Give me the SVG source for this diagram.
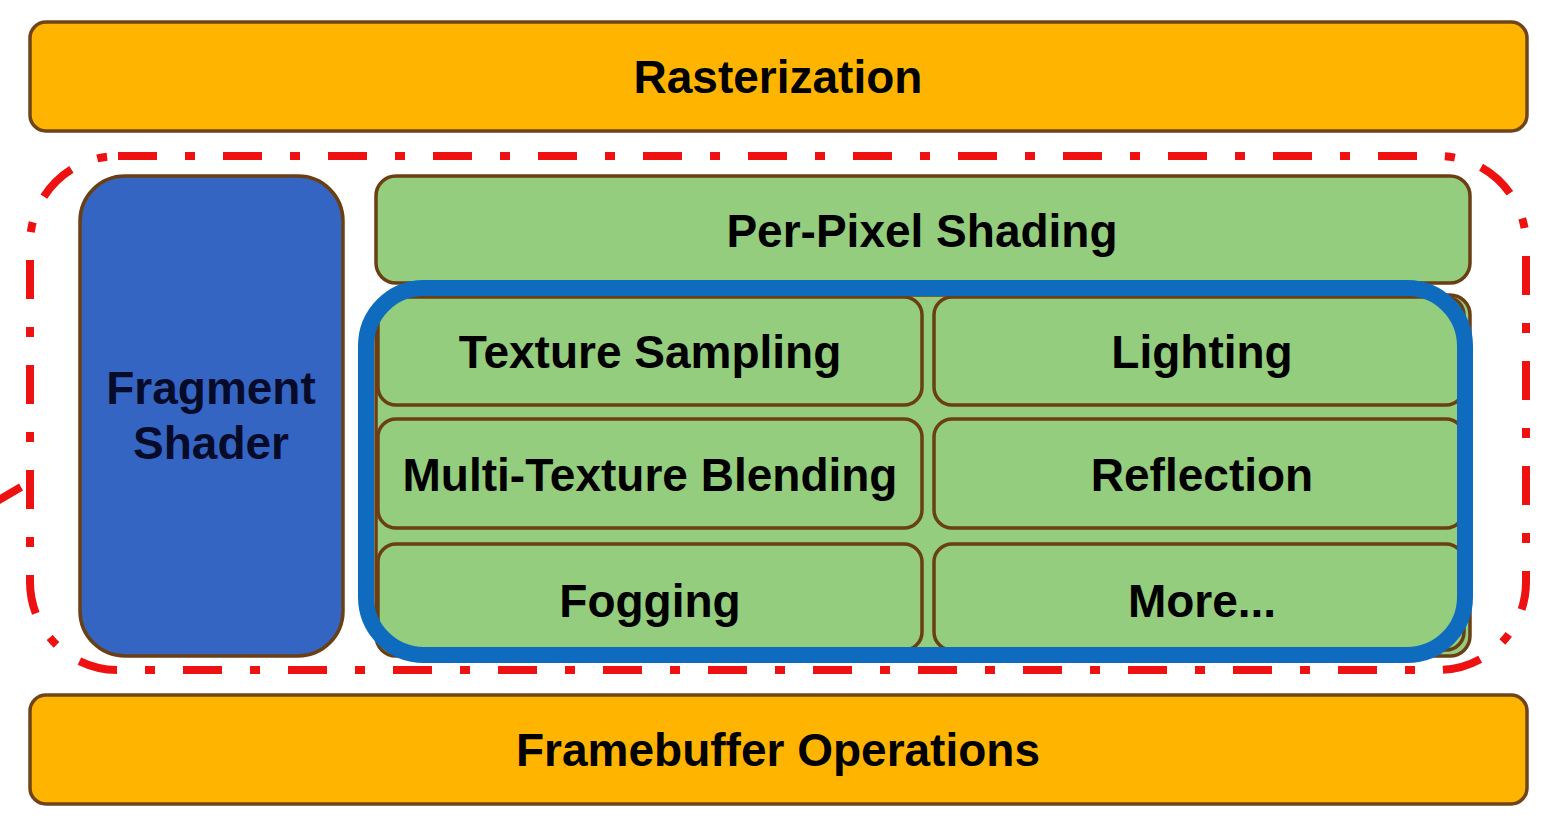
<svg xmlns="http://www.w3.org/2000/svg" width="1558" height="827" viewBox="0 0 1558 827">
<defs>
<style>
.stage{fill:#FFB500;stroke:#6E4418;stroke-width:3.5}
.green{fill:#94CD7E;stroke:#6A3F14;stroke-width:3.5}
.shader{fill:#3565C3;stroke:#6A3F14;stroke-width:3.5}
.lbl{font-family:"Liberation Sans",Arial,sans-serif;font-weight:bold;font-size:46px;fill:#000;text-anchor:middle}
.lblw{font-family:"Liberation Sans",Arial,sans-serif;font-weight:bold;font-size:46px;fill:#060B2A;text-anchor:middle}
.dash{fill:none;stroke:#EE1111;stroke-width:8;stroke-dasharray:39 28 10 28}
</style>
</defs>
<rect width="1558" height="827" fill="#fff"/>
<g id="rasterization">
<rect class="stage" x="30" y="22" width="1497" height="109" rx="16"/>
<text class="lbl" x="778" y="93">Rasterization</text>
</g>
<g id="framebuffer">
<rect class="stage" x="30" y="695" width="1497" height="109" rx="16"/>
<text class="lbl" x="778" y="766">Framebuffer Operations</text>
</g>
<g id="fragment-stage">
<rect class="dash" x="30" y="156" width="1496" height="514" rx="88"/>
</g>
<g id="fragment-shader">
<rect class="shader" x="80" y="176" width="263" height="480" rx="45"/>
<text class="lblw" x="211" y="404">Fragment</text>
<text class="lblw" x="211" y="459">Shader</text>
</g>
<g id="per-pixel-shading">
<rect class="green" x="376" y="176" width="1094" height="107" rx="20"/>
<text class="lbl" x="922" y="247">Per-Pixel Shading</text>
</g>
<g id="operations">
<rect class="green" x="376" y="295" width="1094" height="361" rx="20"/>
<g id="texture-sampling">
<rect class="green" x="378" y="297" width="544" height="108" rx="18"/>
<text class="lbl" x="650" y="368">Texture Sampling</text>
</g>
<g id="lighting">
<rect class="green" x="934" y="297" width="530" height="108" rx="18"/>
<text class="lbl" x="1202" y="368">Lighting</text>
</g>
<g id="multi-texture-blending">
<rect class="green" x="378" y="419" width="544" height="109" rx="18"/>
<text class="lbl" x="650" y="491">Multi-Texture Blending</text>
</g>
<g id="reflection">
<rect class="green" x="934" y="419" width="530" height="109" rx="18"/>
<text class="lbl" x="1202" y="491">Reflection</text>
</g>
<g id="fogging">
<rect class="green" x="378" y="544" width="544" height="106" rx="18"/>
<text class="lbl" x="650" y="617">Fogging</text>
</g>
<g id="more">
<rect class="green" x="934" y="544" width="530" height="106" rx="18"/>
<text class="lbl" x="1202" y="617">More...</text>
</g>
<rect x="366" y="288" width="1099" height="367" rx="58" fill="none" stroke="#0E6BBE" stroke-width="16"/>
</g>
<g id="connectors">
<line x1="21" y1="487" x2="-6" y2="503" stroke="#EE1111" stroke-width="8"/>
</g>
</svg>
